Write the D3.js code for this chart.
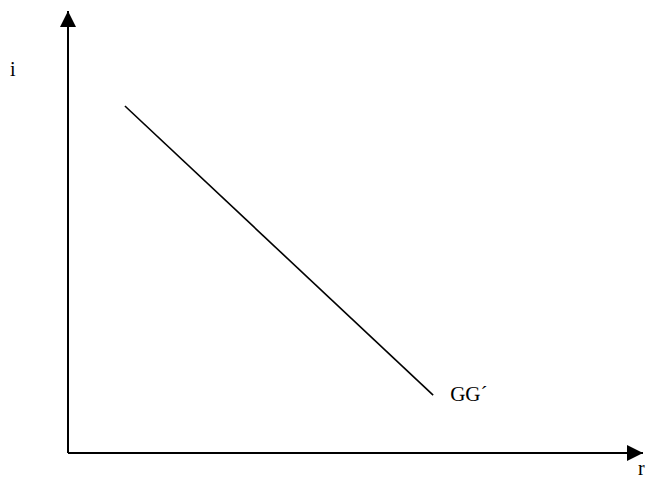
<!DOCTYPE html>
<html>
<head>
<meta charset="utf-8">
<script src="https://cdn.jsdelivr.net/npm/d3@7"></script>
<style>
  html, body { margin: 0; padding: 0; background: #fff; }
  svg { display: block; }
  text { font-family: "Liberation Serif", "Times New Roman", serif; fill: #000; }
</style>
</head>
<body>
<svg id="chart" width="650" height="480"></svg>
<script>
// GG' schedule: interest rate i against r
const curveR = [0.99, 6.35];
const curveI = [7.85, 1.31];
const curveLabel = "GG´";
const axisLabels = { x: "r", y: "i" };

const svg = d3.select("#chart");

const x = d3.scaleLinear().domain([0, 10]).range([68, 643]);
const y = d3.scaleLinear().domain([0, 10]).range([453, 11]);

// axes with arrowheads
const defs = svg.append("defs");
defs.append("marker")
  .attr("id", "arrow")
  .attr("viewBox", "0 0 16 16")
  .attr("refX", 16).attr("refY", 8)
  .attr("markerWidth", 16).attr("markerHeight", 16)
  .attr("markerUnits", "userSpaceOnUse")
  .attr("orient", "auto")
  .append("path")
  .attr("d", "M0,0 L16,8 L0,16 Z")
  .attr("fill", "#000");

svg.append("line")
  .attr("x1", x(0)).attr("y1", y(0))
  .attr("x2", x(10)).attr("y2", y(0))
  .attr("stroke", "#000").attr("stroke-width", 2)
  .attr("marker-end", "url(#arrow)");

svg.append("line")
  .attr("x1", x(0)).attr("y1", y(0))
  .attr("x2", x(0)).attr("y2", y(10))
  .attr("stroke", "#000").attr("stroke-width", 2)
  .attr("marker-end", "url(#arrow)");

// the GG' line
const pts = curveR.map((r, k) => [r, curveI[k]]);
svg.append("path")
  .datum(pts)
  .attr("d", d3.line().x(d => x(d[0])).y(d => y(d[1])))
  .attr("fill", "none")
  .attr("stroke", "#000")
  .attr("stroke-width", 1.6);

svg.append("text")
  .attr("x", x(curveR[1]) + 17)
  .attr("y", y(curveI[1]) + 6)
  .attr("font-size", 21)
  .text(curveLabel);

// axis labels
svg.append("text")
  .attr("x", 10).attr("y", 76)
  .attr("font-size", 20)
  .text(axisLabels.y);

svg.append("text")
  .attr("x", 638).attr("y", 475)
  .attr("font-size", 20)
  .text(axisLabels.x);
</script>
</body>
</html>
